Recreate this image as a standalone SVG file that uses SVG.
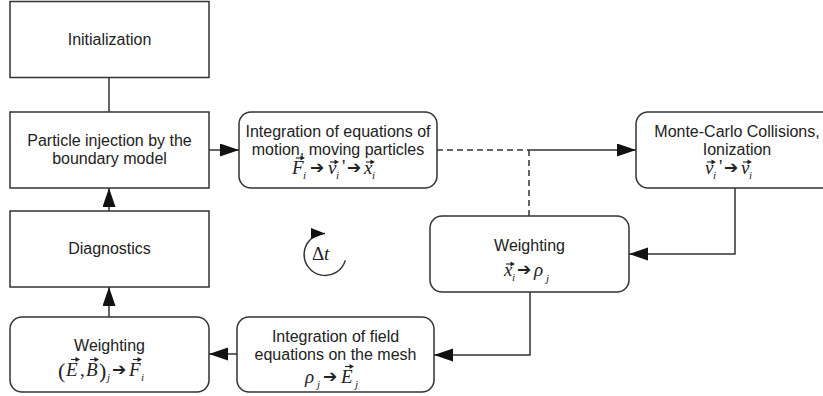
<svg xmlns="http://www.w3.org/2000/svg" xmlns:xlink="http://www.w3.org/1999/xlink" width="823" height="396" viewBox="0 0 823 396">
<style>
.box{fill:#fff;stroke:#333;stroke-width:1.5}
.t{font-family:"Liberation Sans",Arial,sans-serif;font-size:16px;fill:#222;text-anchor:middle}
.m{font-family:"Liberation Serif","Times New Roman",serif;font-style:italic;font-size:19px;fill:#222}
.s{font-family:"Liberation Serif","Times New Roman",serif;font-style:italic;font-size:11px;fill:#222}
.r{font-family:"Liberation Serif","Times New Roman",serif;font-size:19px;fill:#222}
.ar{font-family:"DejaVu Sans",sans-serif;font-size:17px;fill:#222}
.ln{fill:none;stroke:#333;stroke-width:1.5}
.dash{fill:none;stroke:#333;stroke-width:1.5;stroke-dasharray:6,4}
</style>
<defs>
<marker id="ah" markerUnits="userSpaceOnUse" markerWidth="20" markerHeight="14" refX="19" refY="6.5" orient="auto">
<path d="M0,0 L19,6.5 L0,13 Z" fill="#111"/>
</marker>
<marker id="ah2" markerUnits="userSpaceOnUse" markerWidth="16" markerHeight="12" refX="14" refY="5.5" orient="auto">
<path d="M0,0 L14,5.5 L0,11 Z" fill="#111"/>
</marker>
<g id="vec"><path d="M0,0 H6" stroke="#222" stroke-width="1.1"/><path d="M9,0 L4.5,-2.5 L4.5,2.5 Z" fill="#222"/></g>
</defs>

<g id="connectors">
<path class="ln" d="M109,78 V112"/>
<path class="ln" d="M209,150 H239" marker-end="url(#ah)"/>
<path class="dash" d="M437,150 H529"/>
<path class="dash" d="M529,150 V216"/>
<path class="ln" d="M529,150 H636" marker-end="url(#ah)"/>
<path class="ln" d="M735,188 V254 H629" marker-end="url(#ah)"/>
<path class="ln" d="M530,292 V355 H434" marker-end="url(#ah)"/>
<path class="ln" d="M237,354 H209" marker-end="url(#ah)"/>
<path class="ln" d="M109,317 V287" marker-end="url(#ah)"/>
<path class="ln" d="M109,211 V188" marker-end="url(#ah)"/>
</g>

<g id="init">
<rect class="box" x="10" y="1.5" width="199" height="76"/>
<text class="t" x="109.5" y="45">Initialization</text>
</g>

<g id="inject">
<rect class="box" x="10" y="112" width="199" height="76"/>
<text class="t" x="109.5" y="146">Particle injection by the</text>
<text class="t" x="109.5" y="164">boundary model</text>
</g>

<g id="diagnostics">
<rect class="box" x="10" y="211" width="199" height="76"/>
<text class="t" x="109.5" y="254">Diagnostics</text>
</g>

<g id="weighting-field">
<rect class="box" x="10" y="317" width="199" height="75" rx="12"/>
<text class="t" x="109.5" y="351">Weighting</text>
<text class="r" x="58" y="378" style="font-size:22px">(</text>
<text class="m" x="66" y="376">E</text>
<use xlink:href="#vec" x="71" y="359.5"/>
<text class="r" x="80" y="376">,</text>
<text class="m" x="86" y="376">B</text>
<use xlink:href="#vec" x="90" y="359.5"/>
<text class="r" x="99" y="378" style="font-size:22px">)</text>
<text class="s" x="107" y="381">j</text>
<text class="ar" x="112" y="375">➔</text>
<text class="m" x="129" y="376">F</text>
<use xlink:href="#vec" x="133" y="359.5"/>
<text class="s" x="141" y="381">i</text>
</g>

<g id="field-solver">
<rect class="box" x="237" y="317" width="197" height="75" rx="12"/>
<text class="t" x="335.5" y="342">Integration of field</text>
<text class="t" x="335.5" y="360">equations on the mesh</text>
<text class="m" x="305" y="383">ρ</text>
<text class="s" x="317" y="388">j</text>
<text class="ar" x="323" y="382">➔</text>
<text class="m" x="341" y="383">E</text>
<use xlink:href="#vec" x="345" y="366.5"/>
<text class="s" x="355" y="388">j</text>
</g>

<g id="weighting-charge">
<rect class="box" x="430" y="216" width="199" height="76" rx="12"/>
<text class="t" x="529.5" y="251">Weighting</text>
<text class="m" x="504" y="276">x</text>
<use xlink:href="#vec" x="506" y="264"/>
<text class="s" x="512" y="281">i</text>
<text class="ar" x="517" y="275">➔</text>
<text class="m" x="534" y="276">ρ</text>
<text class="s" x="546" y="282">j</text>
</g>

<g id="mover">
<rect class="box" x="239" y="112" width="198" height="76" rx="12"/>
<text class="t" x="338" y="137">Integration of equations of</text>
<text class="t" x="338" y="155">motion, moving particles</text>
<text class="m" x="292" y="174">F</text>
<use xlink:href="#vec" x="296" y="158"/>
<text class="s" x="303" y="179">i</text>
<text class="ar" x="310" y="173">➔</text>
<text class="m" x="328" y="174">v</text>
<use xlink:href="#vec" x="330" y="162"/>
<text class="s" x="336" y="179">i</text>
<text class="r" x="342" y="173">'</text>
<text class="ar" x="347" y="173">➔</text>
<text class="m" x="364" y="174">x</text>
<use xlink:href="#vec" x="366" y="162"/>
<text class="s" x="372" y="179">i</text>
</g>

<g id="collisions">
<rect class="box" x="636" y="112" width="202" height="76" rx="12"/>
<text class="t" x="737" y="137">Monte-Carlo Collisions,</text>
<text class="t" x="737" y="155">Ionization</text>
<text class="m" x="705" y="174">v</text>
<use xlink:href="#vec" x="707" y="162"/>
<text class="s" x="713" y="179">i</text>
<text class="r" x="719" y="173">'</text>
<text class="ar" x="724" y="173">➔</text>
<text class="m" x="741" y="174">v</text>
<use xlink:href="#vec" x="743" y="162"/>
<text class="s" x="749" y="179">i</text>
</g>

<g id="timestep">
<path class="ln" d="M345.3,260.4 A21,21 0 1 1 325,233.5" marker-end="url(#ah2)"/>
<text class="r" x="312" y="260">Δ</text>
<text class="m" x="324" y="260">t</text>
</g>
</svg>
